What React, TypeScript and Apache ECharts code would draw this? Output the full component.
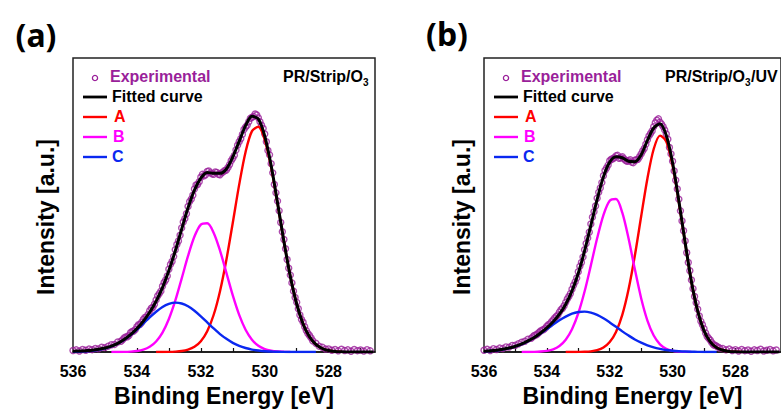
import React, { useEffect, useRef } from 'react';
import * as echarts from 'echarts';

// ---------- DATA (Binding energy [eV], intensity [a.u.]) ----------
const xTickValues = [527, 528, 529, 530, 531, 532, 533, 534, 535];
const xLabelValues = [528, 530, 532, 534, 536];
const panelTitles = ['(a)', '(b)'];
const sampleNames = [['PR/Strip/O', '3', ''], ['PR/Strip/O', '3', '/UV']];
const legendNames = ['Experimental', 'Fitted curve', 'A', 'B', 'C'];

const expA: [number, number][] = [
  [536.0, 1.5], [535.9, 2.2], [535.8, 1.0], [535.7, 2.5], [535.6, 1.8], [535.5, 3.0], [535.4, 2.4], [535.3, 3.6],
  [535.2, 3.2], [535.1, 4.8], [535.0, 4.5], [534.9, 6.0], [534.8, 7.4], [534.7, 7.8], [534.6, 10.2], [534.5, 11.0],
  [534.4, 14.5], [534.3, 15.6], [534.2, 19.8], [534.1, 21.5], [534.0, 26.0], [533.9, 28.5], [533.8, 33.5], [533.7, 36.0],
  [533.6, 42.5], [533.5, 46.0], [533.4, 53.5], [533.3, 60.0], [533.2, 67.5], [533.1, 74.0], [533.0, 85.0], [532.9, 93.0],
  [532.8, 105.0], [532.7, 114.0], [532.6, 127.5], [532.5, 137.0], [532.4, 149.5], [532.3, 157.0], [532.2, 167.5], [532.1, 172.0],
  [532.0, 179.5], [531.9, 181.0], [531.8, 185.5], [531.7, 184.0], [531.6, 182.5], [531.5, 184.5], [531.4, 182.0], [531.3, 185.0],
  [531.2, 187.0], [531.1, 192.5], [531.0, 199.0], [530.9, 207.5], [530.8, 216.0], [530.7, 223.5], [530.6, 231.0], [530.5, 236.5],
  [530.4, 241.0], [530.3, 244.5], [530.2, 240.5], [530.1, 233.0], [530.0, 224.0], [529.9, 207.0], [529.8, 193.5], [529.7, 172.0],
  [529.6, 155.0], [529.5, 133.0], [529.4, 115.5], [529.3, 95.0], [529.2, 79.0], [529.1, 62.5], [529.0, 51.0], [528.9, 38.0],
  [528.8, 30.5], [528.7, 22.0], [528.6, 17.0], [528.5, 11.5], [528.4, 9.0], [528.3, 6.0], [528.2, 4.8], [528.1, 3.0],
  [528.0, 3.2], [527.9, 1.8], [527.8, 2.5], [527.7, 1.2], [527.6, 2.8], [527.5, 1.5], [527.4, 2.2], [527.3, 0.8],
  [527.2, 2.6], [527.1, 1.4], [527.0, 2.0], [526.9, 0.9], [526.8, 2.4], [526.7, 1.2],
];

const expAMid: [number, number][] = [
  [534.45, 12.5], [534.35, 15.5], [534.25, 17.0], [534.15, 21.0], [534.05, 23.0], [533.95, 28.0], [533.85, 30.5], [533.75, 35.5],
  [533.65, 38.5], [533.55, 45.0], [533.45, 49.0], [533.35, 57.5], [533.25, 62.5], [533.15, 71.5], [533.05, 78.0], [532.95, 90.0],
  [532.85, 98.0], [532.75, 110.5], [532.65, 120.0], [532.55, 133.5], [532.45, 142.0], [532.35, 154.5], [532.25, 161.0], [532.15, 171.5],
  [532.05, 175.0], [531.95, 182.5], [531.85, 182.0], [531.75, 186.0], [531.65, 183.0], [531.55, 185.0], [531.45, 182.5], [531.35, 184.0],
  [531.25, 186.5], [531.15, 189.5], [531.05, 196.5], [530.95, 202.0], [530.85, 212.5], [530.75, 219.0], [530.65, 228.5], [530.55, 233.0],
  [530.45, 240.0], [530.35, 242.0], [530.25, 243.5], [530.15, 236.5], [530.05, 229.5], [529.95, 216.0], [529.85, 202.5], [529.75, 184.0],
  [529.65, 163.5], [529.55, 145.0], [529.45, 123.5], [529.35, 106.0], [529.25, 86.0], [529.15, 71.0], [529.05, 56.0], [528.95, 44.5],
  [528.85, 33.5], [528.75, 26.0], [528.65, 19.0], [528.55, 14.5],
];

const fitA: [number, number][] = [
  [536.0, 0.8], [535.8, 1.0], [535.6, 1.4], [535.4, 1.9], [535.2, 2.8], [535.0, 4.1], [534.8, 6.1], [534.6, 8.9],
  [534.4, 12.8], [534.2, 17.8], [534.0, 24.0], [533.8, 31.6], [533.6, 40.8], [533.4, 52.1], [533.2, 66.1], [533.0, 83.6],
  [532.8, 103.8], [532.6, 126.2], [532.4, 148.1], [532.2, 166.3], [532.0, 178.6], [531.8, 184.5], [531.6, 183.5], [531.4, 183.5],
  [531.2, 188.0], [531.0, 200.3], [530.8, 216.3], [530.6, 232.5], [530.4, 242.1], [530.2, 239.3], [530.0, 221.8], [529.8, 191.6],
  [529.6, 153.3], [529.4, 113.6], [529.2, 77.7], [529.0, 49.3], [528.8, 28.8], [528.6, 15.6], [528.4, 7.8], [528.2, 3.6],
  [528.0, 1.5], [527.8, 0.6], [527.6, 0.2], [527.4, 0], [527.2, 0], [527.0, 0], [526.8, 0], [526.6, 0],
];

const peakAa: [number, number][] = [
  [533.4, 0], [533.2, 0], [533.0, 0.1], [532.8, 0.4], [532.6, 1.0], [532.4, 2.4], [532.2, 5.3], [532.0, 11.1],
  [531.8, 21.4], [531.6, 38.0], [531.4, 62.5], [531.2, 94.8], [531.0, 132.8], [530.8, 171.9], [530.6, 205.5], [530.4, 226.9],
  [530.2, 231.4], [530.0, 218.0], [529.8, 189.8], [529.6, 152.6], [529.4, 113.3], [529.2, 77.7], [529.0, 49.3], [528.8, 28.8],
  [528.6, 15.6], [528.4, 7.8], [528.2, 3.6], [528.0, 1.5], [527.8, 0.6], [527.6, 0.2],
];

const peakBa: [number, number][] = [
  [534.8, 0], [534.6, 0], [534.4, 0.1], [534.2, 0.4], [534.0, 1.0], [533.8, 2.4], [533.6, 5.3], [533.4, 10.8],
  [533.2, 19.9], [533.0, 33.9], [532.8, 52.7], [532.6, 75.4], [532.4, 98.7], [532.2, 118.6], [532.0, 130.8], [531.8, 132.2],
  [531.6, 122.6], [531.4, 104.2], [531.2, 81.3], [531.0, 58.1], [530.8, 38.1], [530.6, 22.9], [530.4, 12.7], [530.2, 6.4],
  [530.0, 3.0], [529.8, 1.3], [529.6, 0.5], [529.4, 0.2], [529.2, 0],
];

const peakCa: [number, number][] = [
  [536.0, 0.2], [535.8, 0.4], [535.6, 0.7], [535.4, 1.3], [535.2, 2.3], [535.0, 3.7], [534.8, 5.8], [534.6, 8.7],
  [534.4, 12.6], [534.2, 17.4], [534.0, 23.0], [533.8, 29.2], [533.6, 35.5], [533.4, 41.3], [533.2, 46.2], [533.0, 49.4],
  [532.8, 50.7], [532.6, 49.8], [532.4, 47.0], [532.2, 42.4], [532.0, 36.7], [531.8, 30.4], [531.6, 24.2], [531.4, 18.4],
  [531.2, 13.5], [531.0, 9.4], [530.8, 6.3], [530.6, 4.1], [530.4, 2.5], [530.2, 1.5], [530.0, 0.8], [529.8, 0.5],
  [529.6, 0.2], [529.4, 0.1], [529.2, 0], [529.0, 0], [528.8, 0], [528.6, 0], [528.4, 0],
];

const expB: [number, number][] = [
  [536.0, 1.8], [535.9, 2.8], [535.8, 1.6], [535.7, 3.4], [535.6, 2.6], [535.5, 4.0], [535.4, 3.5], [535.3, 5.2],
  [535.2, 5.0], [535.1, 6.8], [535.0, 7.0], [534.9, 8.5], [534.8, 10.0], [534.7, 11.0], [534.6, 13.2], [534.5, 14.0],
  [534.4, 17.0], [534.3, 18.5], [534.2, 21.5], [534.1, 23.0], [534.0, 26.5], [533.9, 29.0], [533.8, 33.0], [533.7, 36.5],
  [533.6, 41.0], [533.5, 45.0], [533.4, 51.0], [533.3, 57.0], [533.2, 64.5], [533.1, 72.0], [533.0, 82.5], [532.9, 92.0],
  [532.8, 105.0], [532.7, 117.0], [532.6, 131.5], [532.5, 144.0], [532.4, 158.0], [532.3, 168.5], [532.2, 181.0], [532.1, 189.0],
  [532.0, 196.5], [531.9, 198.5], [531.8, 201.5], [531.7, 199.0], [531.6, 200.5], [531.5, 197.0], [531.4, 196.5], [531.3, 195.0],
  [531.2, 197.0], [531.1, 198.0], [531.0, 203.5], [530.9, 209.0], [530.8, 218.0], [530.7, 224.5], [530.6, 231.5], [530.5, 238.0],
  [530.4, 236.0], [530.3, 231.5], [530.2, 224.0], [530.1, 210.0], [530.0, 196.0], [529.9, 176.5], [529.8, 157.0], [529.7, 134.5],
  [529.6, 114.0], [529.5, 92.0], [529.4, 74.0], [529.3, 57.0], [529.2, 44.0], [529.1, 31.5], [529.0, 24.0], [528.9, 16.0],
  [528.8, 12.0], [528.7, 7.5], [528.6, 6.0], [528.5, 4.0], [528.4, 3.5], [528.3, 2.2], [528.2, 3.0], [528.1, 1.5],
  [528.0, 2.4], [527.9, 1.0], [527.8, 2.6], [527.7, 1.4], [527.6, 2.0], [527.5, 0.8], [527.4, 2.2], [527.3, 1.5],
  [527.2, 2.8], [527.1, 1.0], [527.0, 1.8], [526.9, 2.5], [526.8, 1.2], [526.7, 2.0],
];

const expBMid: [number, number][] = [
  [534.45, 15.5], [534.35, 17.5], [534.25, 20.0], [534.15, 22.5], [534.05, 24.5], [533.95, 28.0], [533.85, 31.0], [533.75, 35.0],
  [533.65, 38.0], [533.55, 43.5], [533.45, 47.5], [533.35, 54.5], [533.25, 60.0], [533.15, 68.5], [533.05, 76.0], [532.95, 88.0],
  [532.85, 97.5], [532.75, 111.5], [532.65, 123.0], [532.55, 138.5], [532.45, 150.0], [532.35, 164.0], [532.25, 174.0], [532.15, 186.5],
  [532.05, 192.0], [531.95, 198.0], [531.85, 199.5], [531.75, 202.0], [531.65, 199.5], [531.55, 198.5], [531.45, 196.0], [531.35, 197.5],
  [531.25, 194.5], [531.15, 197.5], [531.05, 200.5], [530.95, 206.5], [530.85, 213.5], [530.75, 222.0], [530.65, 227.0], [530.55, 235.5],
  [530.45, 239.5], [530.35, 234.0], [530.25, 228.0], [530.15, 218.5], [530.05, 203.5], [529.95, 186.0], [529.85, 167.5], [529.75, 145.0],
  [529.65, 124.5], [529.55, 102.0], [529.45, 83.5], [529.35, 65.0], [529.25, 50.5], [529.15, 37.0], [529.05, 28.0], [528.95, 19.5],
  [528.85, 14.0], [528.75, 9.5], [528.65, 7.0], [528.55, 5.0],
];

const fitB: [number, number][] = [
  [536.0, 0.8], [535.8, 1.2], [535.6, 1.8], [535.4, 2.8], [535.2, 4.1], [535.0, 5.9], [534.8, 8.3], [534.6, 11.4],
  [534.4, 15.0], [534.2, 19.5], [534.0, 24.7], [533.8, 31.0], [533.6, 38.8], [533.4, 49.0], [533.2, 62.8], [533.0, 80.9],
  [532.8, 103.8], [532.6, 130.1], [532.4, 156.8], [532.2, 179.9], [532.0, 195.0], [531.8, 200.5], [531.6, 199.5], [531.4, 196.0],
  [531.2, 195.5], [531.0, 202.5], [530.8, 217.4], [530.6, 230.1], [530.4, 234.5], [530.2, 222.5], [530.0, 194.4], [529.8, 155.2],
  [529.6, 112.5], [529.4, 72.3], [529.2, 42.1], [529.0, 22.0], [528.8, 10.5], [528.6, 4.5], [528.4, 1.8], [528.2, 0.6],
  [528.0, 0.2], [527.8, 0], [527.6, 0], [527.4, 0], [527.2, 0], [527.0, 0], [526.8, 0], [526.6, 0],
];

const peakAb: [number, number][] = [
  [533.4, 0], [533.2, 0], [533.0, 0.1], [532.8, 0.2], [532.6, 0.7], [532.4, 1.9], [532.2, 4.6], [532.0, 10.2],
  [531.8, 20.6], [531.6, 38.1], [531.4, 64.4], [531.2, 99.1], [531.0, 139.2], [530.8, 178.3], [530.6, 208.5], [530.4, 222.3],
  [530.2, 216.3], [530.0, 191.9], [529.8, 154.0], [529.6, 112.0], [529.4, 72.0], [529.2, 42.0], [529.0, 22.0], [528.8, 10.5],
  [528.6, 4.5], [528.4, 1.8], [528.2, 0.6], [528.0, 0.2], [527.8, 0],
];

const peakBb: [number, number][] = [
  [534.8, 0], [534.6, 0], [534.4, 0.1], [534.2, 0.45], [534.0, 1.2], [533.8, 2.8], [533.6, 6.2], [533.4, 12.6],
  [533.2, 23.4], [533.0, 39.8], [532.8, 62.1], [532.6, 89.0], [532.4, 116.8], [532.2, 140.7], [532.0, 155.4], [531.8, 157.2],
  [531.6, 143.1], [531.4, 116.5], [531.2, 84.9], [531.0, 55.3], [530.8, 32.3], [530.6, 16.9], [530.4, 7.9], [530.2, 3.3],
  [530.0, 1.2], [529.8, 0.4], [529.6, 0.1], [529.4, 0],
];

const peakCb: [number, number][] = [
  [536.0, 0.6], [535.8, 1.0], [535.6, 1.6], [535.4, 2.6], [535.2, 3.9], [535.0, 5.7], [534.8, 8.1], [534.6, 11.2],
  [534.4, 14.8], [534.2, 19.0], [534.0, 23.5], [533.8, 28.2], [533.6, 32.6], [533.4, 36.4], [533.2, 39.4], [533.0, 41.1],
  [532.8, 41.5], [532.6, 40.4], [532.4, 38.1], [532.2, 34.6], [532.0, 30.4], [531.8, 25.9], [531.6, 21.2], [531.4, 16.9],
  [531.2, 12.9], [531.0, 9.6], [530.8, 6.8], [530.6, 4.7], [530.4, 3.2], [530.2, 2.0], [530.0, 1.3], [529.8, 0.8],
  [529.6, 0.45], [529.4, 0.25], [529.2, 0.13], [529.0, 0], [528.8, 0], [528.6, 0],
];

// ---------- STYLE ----------
const FONT = "'Liberation Sans', Arial, Helvetica, sans-serif";
const PURPLE = '#9A1F9A';
const RED = '#FF0000';
const MAGENTA = '#FF00FF';
const BLUE = '#0A28F0';
const GRID_TOP = 58;
const GRID_SIZE = 302;
const GRID_LEFTS = [73, 484];
const Y_TITLE_X = [46, 462];

export default function App() {
  const ref = useRef<HTMLDivElement>(null);

  useEffect(() => {
    document.body.style.margin = '0';
    if (!ref.current) return;
    const chart = echarts.init(ref.current, null, { renderer: 'svg' });

    const xAxis = GRID_LEFTS.map((_, gi) => ({
      type: 'value',
      gridIndex: gi,
      min: 526.55,
      max: 536,
      inverse: true,
      axisLine: { show: true, onZero: false, lineStyle: { color: '#111', width: 1.5 } },
      axisTick: { show: true, inside: true, length: 4, customValues: xTickValues, lineStyle: { color: '#111', width: 1.2 } },
      axisLabel: {
        show: true,
        customValues: xLabelValues,
        fontSize: 16,
        fontWeight: 'bold',
        color: '#000',
        fontFamily: FONT,
        margin: 11,
      },
      splitLine: { show: false },
      name: 'Binding Energy [eV]',
      nameLocation: 'middle',
      nameGap: 32,
      nameTextStyle: { fontSize: 23, fontWeight: 'bold', color: '#000', fontFamily: FONT },
    }));

    const yAxis = GRID_LEFTS.map((_, gi) => ({
      type: 'value',
      gridIndex: gi,
      min: 0,
      max: 302,
      axisLine: { show: false },
      axisTick: { show: false },
      axisLabel: { show: false },
      splitLine: { show: false },
    }));

    const panels = [
      { exp: expA.concat(expAMid), fit: fitA, a: peakAa, b: peakBa, c: peakCa },
      { exp: expB.concat(expBMid), fit: fitB, a: peakAb, b: peakBb, c: peakCb },
    ];

    const series: any[] = [];
    panels.forEach((p, gi) => {
      series.push({
        name: legendNames[0],
        type: 'scatter',
        xAxisIndex: gi,
        yAxisIndex: gi,
        data: p.exp,
        symbol: 'circle',
        symbolSize: 6,
        itemStyle: { color: 'rgba(0,0,0,0)', borderColor: PURPLE, borderWidth: 1.4 },
        z: 2,
      });
      const lines: [string, [number, number][], string, number][] = [
        [legendNames[2], p.a, RED, 2.4],
        [legendNames[3], p.b, MAGENTA, 2.4],
        [legendNames[4], p.c, BLUE, 2.4],
        [legendNames[1], p.fit, '#000', 3],
      ];
      lines.forEach(([name, data, color, w], k) => {
        series.push({
          name,
          type: 'line',
          xAxisIndex: gi,
          yAxisIndex: gi,
          data,
          showSymbol: false,
          symbol: 'none',
          smooth: 0.3,
          lineStyle: { color, width: w },
          z: 3 + k,
        });
      });
    });

    const graphic: any[] = [];
    const txt = (x: number, y: number, text: string, size: number, fill: string, align = 'left', family = FONT, extra: any = {}) => ({
      type: 'text',
      x,
      y,
      ...extra,
      style: {
        text,
        fontSize: size,
        fontWeight: 'bold',
        fontFamily: family,
        fill,
        align,
        textAlign: align,
        verticalAlign: 'middle',
        textVerticalAlign: 'middle',
      },
    });

    // panel labels
    graphic.push(txt(36, 34, panelTitles[0], 32, '#000', 'center', "'Noto Sans', sans-serif"));
    graphic.push(txt(447, 33, panelTitles[1], 32, '#000', 'center', "'Noto Sans', sans-serif"));

    GRID_LEFTS.forEach((fx, gi) => {
      // y-axis title
      graphic.push(txt(Y_TITLE_X[gi], 217, 'Intensity [a.u.]', 23, '#000', 'center', FONT, { rotation: Math.PI / 2 }));
      // legend
      graphic.push({ type: 'circle', shape: { cx: fx + 22, cy: 78, r: 2.6 }, style: { fill: 'none', stroke: PURPLE, lineWidth: 1.3 } });
      graphic.push(txt(fx + 37, 76, legendNames[0], 16, PURPLE));
      const rows: [string, string, number, number, number][] = [
        [legendNames[1], '#000', 97, 2.8, 39],
        [legendNames[2], RED, 117, 2.4, 41],
        [legendNames[3], MAGENTA, 137, 2.4, 40],
        [legendNames[4], BLUE, 157, 2.4, 39],
      ];
      rows.forEach(([name, color, y, w, tx]) => {
        graphic.push({ type: 'line', shape: { x1: fx + 10, y1: y, x2: fx + 34, y2: y }, style: { stroke: color, lineWidth: w } });
        graphic.push(txt(fx + tx, y - 0.5, name, 16, color));
      });
      // sample name with subscript
      const [pre, sub, post] = sampleNames[gi];
      const sx = gi === 0 ? 283 : 665;
      graphic.push(txt(sx, 76, pre, 16, '#000'));
      graphic.push(txt(sx + 80, 82, sub, 10, '#000'));
      if (post) graphic.push(txt(sx + 86, 76, post, 16, '#000'));
    });

    chart.setOption({
      animation: false,
      backgroundColor: '#fff',
      grid: GRID_LEFTS.map((left) => ({
        left,
        top: GRID_TOP,
        width: GRID_SIZE,
        height: GRID_SIZE,
        show: true,
        borderColor: '#222',
        borderWidth: 1.5,
        backgroundColor: 'rgba(0,0,0,0)',
        containLabel: false,
      })),
      xAxis,
      yAxis,
      series,
      graphic,
    });

    return () => chart.dispose();
  }, []);

  return <div ref={ref} style={{ position: 'absolute', left: 0, top: 0, width: 781, height: 412 }} />;
}
